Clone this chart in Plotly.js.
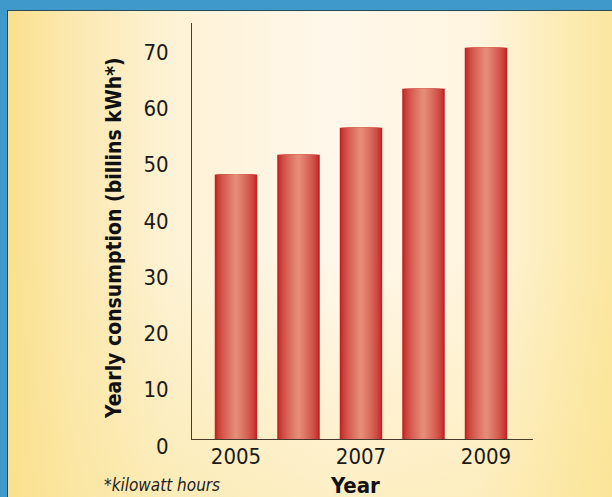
<!DOCTYPE html>
<html>
<head>
<meta charset="utf-8">
<script src="https://cdn.plot.ly/plotly-3.0.1.min.js"></script>
<style>
  html, body { margin: 0; padding: 0; }
  body { width: 612px; height: 497px; background: #3f9acb; position: relative; overflow: hidden; }
  #panel {
    position: absolute; left: 7px; top: 10px; width: 605px; height: 487px;
    border-left: 1px solid #2a4a5a; border-top: 1px solid #2a4a5a;
    background:
      linear-gradient(to bottom, rgba(255,248,236,0) 50%, rgba(250,226,140,0.40) 100%),
      linear-gradient(to right, #fae08e 0px, #fbe8ae 60px, #fdf2d4 160px, #fff7ea 320px, #fff5e0 470px, #fcebb2 560px, #fbe6a0 605px);
  }
  #chart { position: absolute; left: 0; top: 0; width: 612px; height: 497px; }
</style>
</head>
<body>
<div id="panel"></div>
<div id="chart"></div>
<script>
// Data
var years = [2005, 2006, 2007, 2008, 2009];
var consumption = [47.0, 50.5, 55.3, 62.2, 69.5];
var yTickVals = [0, 10, 20, 30, 40, 50, 60, 70];
var xTickVals = [2005, 2007, 2009];
var xTickText = ['2005', '2007', '2009'];

// Cylinder-like shading: overlaid bars of decreasing width
var edge = [194, 36, 36];
var center = [231, 146, 124];
var layers = 12;
var baseWidth = 0.68;
var traces = [];
for (var k = 0; k < layers; k++) {
  var f = 1 - k / layers;
  var t = Math.pow(1 - f, 0.7);
  var c = edge.map(function (e, i) { return Math.round(e + (center[i] - e) * t); });
  traces.push({
    type: 'bar',
    x: years,
    y: consumption,
    width: baseWidth * f,
    marker: { color: 'rgb(' + c.join(',') + ')', line: { width: 0 } },
    hoverinfo: 'skip',
    showlegend: false
  });
}

var font = "'DejaVu Sans Condensed', 'Liberation Sans Narrow', sans-serif";

var layout = {
  width: 612,
  height: 497,
  paper_bgcolor: 'rgba(0,0,0,0)',
  plot_bgcolor: 'rgba(0,0,0,0)',
  barmode: 'overlay',
  margin: { l: 192, r: 79, t: 23, b: 58, pad: 0 },
  showlegend: false,
  xaxis: {
    range: [2004.296, 2009.752],
    tickvals: xTickVals,
    ticktext: xTickText,
    ticks: '',
    showgrid: false,
    zeroline: false,
    showline: true,
    linecolor: '#4a3a2a',
    linewidth: 1,
    ticklabelstandoff: -2,
    tickfont: { family: font, size: 22, color: '#1a1a1a' },
    fixedrange: true
  },
  yaxis: {
    range: [0, 73.9],
    tickvals: yTickVals,
    ticks: '',
    showgrid: false,
    zeroline: false,
    showline: true,
    linecolor: '#4a3a2a',
    linewidth: 1,
    ticklabelstandoff: 18,
    ticklabelshift: 7,
    tickfont: { family: font, size: 22, color: '#1a1a1a' },
    fixedrange: true
  },
  annotations: [
    {
      text: '<b>Yearly consumption (billins kWh*)</b>',
      xref: 'paper', yref: 'paper',
      x: (114 - 192) / 341, y: (439 - 238) / 416,
      xanchor: 'center', yanchor: 'middle',
      textangle: -90, showarrow: false,
      font: { family: font, size: 21, color: '#111' }
    },
    {
      text: '<b>Year</b>',
      xref: 'paper', yref: 'paper',
      x: (355 - 192) / 341, y: (439 - 485) / 416,
      xanchor: 'center', yanchor: 'middle',
      showarrow: false,
      font: { family: font, size: 22, color: '#111' }
    },
    {
      text: '<i>*kilowatt hours</i>',
      xref: 'paper', yref: 'paper',
      x: (102 - 192) / 341, y: (439 - 485) / 416,
      xanchor: 'left', yanchor: 'middle',
      showarrow: false,
      font: { family: font, size: 17, color: '#222' }
    }
  ]
};

Plotly.newPlot('chart', traces, layout, { displayModeBar: false, staticPlot: true });
</script>
</body>
</html>
